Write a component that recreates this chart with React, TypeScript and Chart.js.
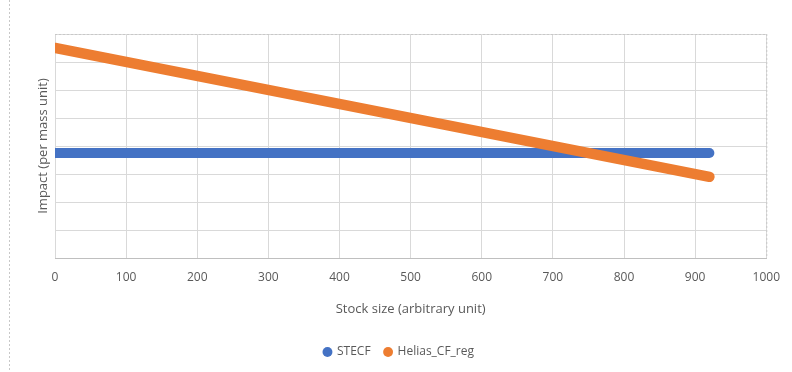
import React, { useEffect, useRef } from "react";
import { Chart, registerables } from "chart.js";

Chart.register(...registerables);

// Stock size (arbitrary unit) at each end of the two series
const stockSizes = [0, 920];
const stecfImpact = [3.75, 3.75];
const heliasImpact = [7.5, 2.9];

const xTicks = [0, 100, 200, 300, 400, 500, 600, 700, 800, 900, 1000];
const seriesNames = ["STECF", "Helias_CF_reg"];

const W = 792;
const H = 372;
const FONT = "'Open Sans', sans-serif";
const TEXT = "#595959";
const GRID = "#d9d9d9";

// Faint dashed frame pieces: chart outline on the left, plot top and right edges
const framePlugin = {
  id: "frame",
  beforeDatasetsDraw(chart: any) {
    const { ctx, chartArea } = chart;
    ctx.save();
    ctx.strokeStyle = "#c8c8c8";
    ctx.lineWidth = 1;
    ctx.setLineDash([2, 2]);
    ctx.beginPath();
    ctx.moveTo(chartArea.left, chartArea.top + 0.5);
    ctx.lineTo(chartArea.right, chartArea.top + 0.5);
    ctx.moveTo(chartArea.right + 0.5, chartArea.top);
    ctx.lineTo(chartArea.right + 0.5, chartArea.bottom);
    ctx.stroke();
    ctx.restore();
  },
  afterDraw(chart: any) {
    const { ctx } = chart;
    ctx.save();
    ctx.strokeStyle = "#c8c8c8";
    ctx.lineWidth = 1;
    ctx.setLineDash([2, 2]);
    ctx.beginPath();
    ctx.moveTo(9.5, 0);
    ctx.lineTo(9.5, H);
    ctx.stroke();
    ctx.restore();
  },
};

export default function App() {
  const ref = useRef<HTMLCanvasElement | null>(null);

  useEffect(() => {
    if (!ref.current) return;
    const chart = new Chart(ref.current, {
      type: "line",
      data: {
        datasets: [
          {
            label: seriesNames[0],
            data: stockSizes.map((x, i) => ({ x, y: stecfImpact[i] })),
            borderColor: "#4472C4",
            backgroundColor: "#4472C4",
            borderWidth: 10,
            borderCapStyle: "round",
            pointRadius: 0,
            pointStyle: "circle",
            order: 1,
          },
          {
            label: seriesNames[1],
            data: stockSizes.map((x, i) => ({ x, y: heliasImpact[i] })),
            borderColor: "#ED7D31",
            backgroundColor: "#ED7D31",
            borderWidth: 10.5,
            borderCapStyle: "round",
            pointRadius: 0,
            pointStyle: "circle",
            order: 0,
          },
        ],
      },
      options: {
        animation: false,
        responsive: false,
        maintainAspectRatio: false,
        layout: { padding: { left: 30, top: 34, right: 24, bottom: 4 } },
        plugins: {
          tooltip: { enabled: false },
          legend: {
            position: "bottom",
            labels: {
              usePointStyle: true,
              pointStyle: "circle",
              boxWidth: 7,
              boxHeight: 7,
              padding: 14,
              color: TEXT,
              font: { family: FONT, size: 12 },
              generateLabels: (c: any) =>
                Chart.defaults.plugins.legend.labels
                  .generateLabels(c)
                  .map((l: any) => ({ ...l, lineWidth: 0, strokeStyle: "transparent" }))
                  .sort((a: any, b: any) => a.datasetIndex - b.datasetIndex),
            },
          },
        },
        scales: {
          x: {
            type: "linear",
            min: xTicks[0],
            max: xTicks[xTicks.length - 1],
            afterBuildTicks: (scale: any) => {
              scale.ticks = xTicks.map((v) => ({ value: v }));
            },
            afterFit: (scale: any) => {
              scale.height = 74;
            },
            ticks: {
              color: TEXT,
              font: { family: FONT, size: 12 },
              padding: 12,
              maxRotation: 0,
              callback: (v: any) => String(v),
            },
            grid: { color: GRID, drawTicks: false },
            border: { color: "#bfbfbf", width: 1 },
            title: {
              display: true,
              text: "Stock size (arbitrary unit)",
              color: TEXT,
              font: { family: FONT, size: 13 },
              padding: { top: 0, bottom: 15 },
            },
          },
          y: {
            type: "linear",
            min: 0,
            max: 8,
            ticks: { display: false, stepSize: 1 },
            afterFit: (scale: any) => {
              scale.width = 25;
            },
            grid: { color: GRID, drawTicks: false },
            border: { display: false },
            title: {
              display: true,
              text: "Impact (per mass unit)",
              color: TEXT,
              font: { family: FONT, size: 13 },
              padding: { top: 5, bottom: 0 },
            },
          },
        },
      },
      plugins: [framePlugin],
    } as any);
    return () => chart.destroy();
  }, []);

  return (
    <div style={{ position: "fixed", left: 0, top: 0, width: W, height: H, background: "#fff" }}>
      <canvas ref={ref} width={W} height={H} style={{ display: "block", width: W, height: H }} />
    </div>
  );
}
